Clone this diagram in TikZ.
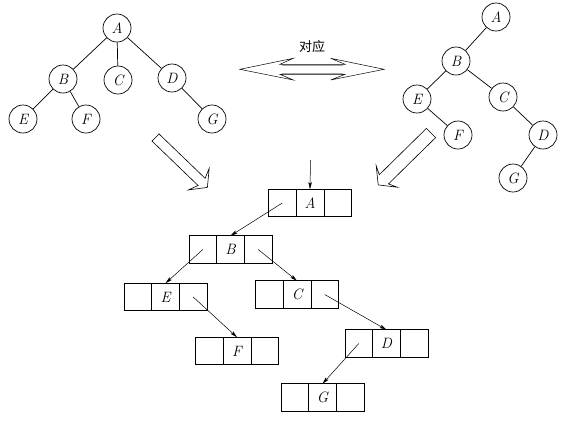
\documentclass[tikz,border=0pt]{standalone}
\usepackage{fontspec}
\newfontfamily\cjk{Noto Sans CJK SC}
\usetikzlibrary{arrows.meta}
\begin{document}
\begin{tikzpicture}[x=1pt,y=-1pt,
  treenode/.style={circle,draw,line width=0.7pt,minimum size=28pt,inner sep=0pt,font=\fontsize{15}{17}\selectfont\itshape},
  edge/.style={line width=0.7pt},
  cell/.style={rectangle,draw,line width=0.7pt,outer sep=0pt,minimum width=27.7pt,minimum height=27.5pt,inner sep=0pt,font=\fontsize{15}{17}\selectfont\itshape},
  ptr/.style={line width=0.5pt,-{Stealth[length=7pt,width=3.5pt,inset=1.5pt]}},
  bigarrow/.style={line width=0.6pt,fill=white,line join=miter}]
\useasboundingbox (0,0) rectangle (585,421);
% left tree
\node[treenode] (LA) at (117,28) {A};
\node[treenode] (LB) at (63,79) {B};
\node[treenode] (LC) at (118,80) {C};
\node[treenode] (LD) at (172,78) {D};
\node[treenode] (LE) at (23,119) {E};
\node[treenode] (LF) at (86,119) {F};
\node[treenode] (LG) at (212,119) {G};
\draw[edge] (LA) -- (LB);
\draw[edge] (LA) -- (LC);
\draw[edge] (LA) -- (LD);
\draw[edge] (LB) -- (LE);
\draw[edge] (LB) -- (LF);
\draw[edge] (LD) -- (LG);
% right tree
\node[treenode] (RA) at (496,17) {A};
\node[treenode] (RB) at (456,61) {B};
\node[treenode] (RE) at (417,99) {E};
\node[treenode] (RC) at (503,97) {C};
\node[treenode] (RF) at (458,135) {F};
\node[treenode] (RD) at (543,135) {D};
\node[treenode] (RG) at (513,178) {G};
\draw[edge] (RA) -- (RB);
\draw[edge] (RB) -- (RE);
\draw[edge] (RB) -- (RC);
\draw[edge] (RE) -- (RF);
\draw[edge] (RC) -- (RD);
\draw[edge] (RD) -- (RG);
% correspondence double arrow
\node[font=\cjk\fontsize{13}{15}\selectfont] (lbl) at (312,47) {对应};
\draw[bigarrow,line width=0.5pt] (240,69.3) -- (293.3,58.3) -- (280,64.3) -- (345,64.3) -- (330.7,58.3) -- (384,69.3) -- (330.7,80) -- (345,74.3) -- (280,74.3) -- (293.3,80) -- cycle;
\draw[line width=1pt,gray!70] (282,65.3) -- (343,65.3) (282,73.3) -- (343,73.3);
% big hollow arrows
\draw[bigarrow] (152.0,141.1) -- (198.1,185.5) -- (188.4,189.9) -- (207.4,187.4) -- (209.2,168.3) -- (205.1,178.3) -- (159.0,133.9) -- cycle;
\draw[bigarrow] (426.4,128.4) -- (379.3,174.7) -- (376.2,165.8) -- (378.2,184.9) -- (397.2,187.2) -- (388.5,183.9) -- (435.6,137.6) -- cycle;
% records
\foreach \n/\x/\y/\t in {A/310/203/A, B/230.5/249.5/B, E/165.5/297/E, C/297/294.5/C, F/237/351/F, D/386.5/343.5/D, G/322.5/397.5/G}{
  \node[cell] (\n m) at (\x,\y) {\t};
  \node[cell,anchor=east] (\n l) at (\n m.west) {};
  \node[cell,anchor=west] (\n r) at (\n m.east) {};
}
\coordinate (root) at (310.5,160);
\draw[ptr] (root) -- (Am.north);
\draw[ptr] (Al.center) -- (Bm.north);
\draw[ptr] (Bl.center) -- (Em.north);
\draw[ptr] (Br.center) -- (Cm.north);
\draw[ptr] (Er.center) -- (Fm.north);
\draw[ptr] (Cr.center) -- (Dm.north);
\draw[ptr] (Dl.center) -- (Gm.north);
\end{tikzpicture}
\end{document}
